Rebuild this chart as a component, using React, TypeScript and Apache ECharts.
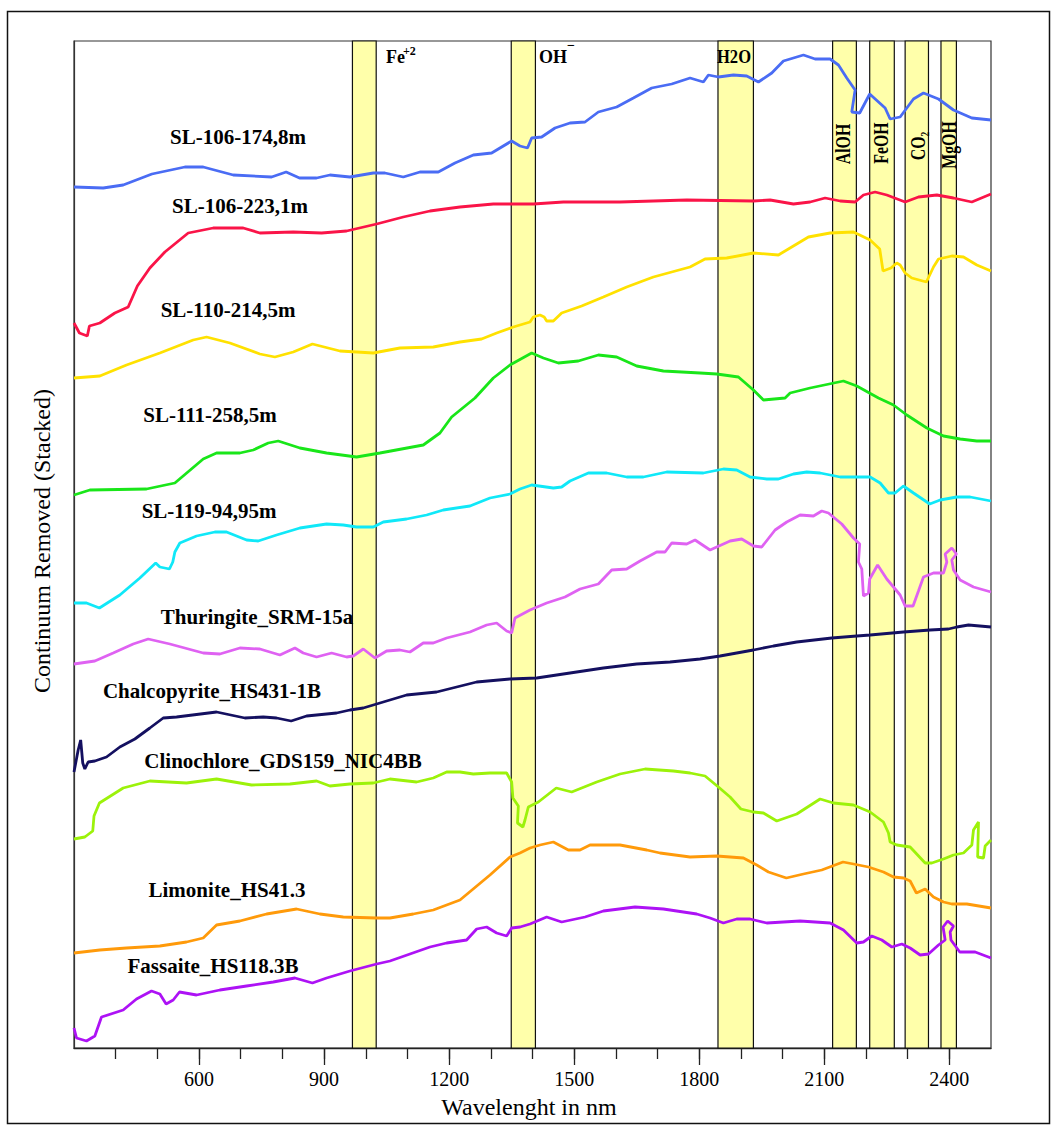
import { useEffect, useRef } from 'react';
import * as echarts from 'echarts';

type Pt = [number, number];

const FONT = "'Liberation Serif', 'Times New Roman', serif";

// Wavelength axis (nm)
const WAVE_MIN = 300;
const WAVE_MAX = 2500;
const MAJOR_TICKS = [600, 900, 1200, 1500, 1800, 2100, 2400];
const MINOR_TICKS = [
  400, 500, 600, 700, 800, 900, 1000, 1100, 1200, 1300, 1400, 1500, 1600, 1700,
  1800, 1900, 2000, 2100, 2200, 2300, 2400,
];

// Diagnostic absorption windows (nm)
const BAND_FROM = [968, 1349, 1845, 2120, 2209, 2294, 2380];
const BAND_TO = [1025, 1407, 1930, 2177, 2268, 2350, 2417];

// Continuum-removed spectra, offset for stacking: [wavelength nm, value]
const SL_106_174_8: Pt[] = [
  [300, 8.61], [370, 8.6], [418, 8.63], [487, 8.74], [566, 8.81], [610, 8.81], [682, 8.73], [774, 8.71],
  [809, 8.76], [841, 8.7], [882, 8.7], [914, 8.73], [962, 8.71], [1018, 8.75], [1046, 8.75], [1090, 8.71],
  [1130, 8.76], [1174, 8.76], [1214, 8.85], [1258, 8.93], [1302, 8.95], [1350, 9.07], [1370, 9.02],
  [1388, 9.0], [1398, 9.1], [1422, 9.11], [1454, 9.2], [1490, 9.25], [1526, 9.26], [1558, 9.36],
  [1602, 9.41], [1642, 9.5], [1686, 9.6], [1734, 9.64], [1778, 9.7], [1810, 9.66], [1822, 9.73],
  [1846, 9.71], [1882, 9.73], [1914, 9.72], [1942, 9.66], [1974, 9.75], [2002, 9.87], [2050, 9.93],
  [2078, 9.89], [2114, 9.89], [2134, 9.83], [2154, 9.7], [2174, 9.58], [2166, 9.36], [2185, 9.35],
  [2209, 9.54], [2246, 9.4], [2258, 9.29], [2282, 9.31], [2314, 9.49], [2338, 9.55], [2374, 9.49],
  [2410, 9.38], [2454, 9.3], [2500, 9.28],
];

const SL_106_223_1: Pt[] = [
  [300, 7.25], [313, 7.15], [332, 7.12], [337, 7.22], [362, 7.25], [398, 7.35], [430, 7.41], [452, 7.62],
  [482, 7.8], [518, 7.96], [574, 8.15], [634, 8.2], [706, 8.2], [746, 8.15], [826, 8.16], [894, 8.15],
  [954, 8.17], [1026, 8.24], [1090, 8.31], [1154, 8.37], [1226, 8.41], [1306, 8.44], [1402, 8.44],
  [1474, 8.46], [1610, 8.46], [1770, 8.48], [1930, 8.47], [1970, 8.48], [2026, 8.44], [2066, 8.46],
  [2102, 8.5], [2138, 8.47], [2174, 8.46], [2194, 8.53], [2222, 8.56], [2250, 8.53], [2294, 8.46],
  [2326, 8.51], [2370, 8.53], [2410, 8.5], [2454, 8.46], [2500, 8.54],
];

const SL_110_214_5: Pt[] = [
  [300, 6.7], [362, 6.72], [426, 6.83], [506, 6.95], [586, 7.08], [618, 7.11], [674, 7.05], [746, 6.94],
  [782, 6.91], [826, 6.96], [872, 7.04], [938, 6.97], [1018, 6.95], [1082, 7.0], [1162, 7.01], [1226, 7.06],
  [1278, 7.09], [1314, 7.15], [1354, 7.21], [1394, 7.26], [1402, 7.31], [1418, 7.33], [1428, 7.31],
  [1434, 7.27], [1450, 7.27], [1470, 7.35], [1518, 7.42], [1570, 7.51], [1626, 7.61], [1690, 7.71],
  [1778, 7.81], [1814, 7.89], [1866, 7.9], [1930, 7.95], [1990, 7.93], [2062, 8.11], [2114, 8.15],
  [2170, 8.16], [2210, 8.08], [2233, 7.99], [2241, 7.77], [2260, 7.8], [2274, 7.85], [2282, 7.83],
  [2294, 7.75], [2310, 7.7], [2345, 7.66], [2362, 7.81], [2374, 7.89], [2406, 7.92], [2434, 7.91],
  [2466, 7.83], [2500, 7.77],
];

const SL_111_258_5: Pt[] = [
  [300, 5.53], [338, 5.58], [474, 5.59], [542, 5.65], [610, 5.89], [642, 5.95], [698, 5.95], [730, 5.98],
  [766, 6.05], [790, 6.07], [842, 6.0], [906, 5.95], [978, 5.91], [1034, 5.95], [1138, 6.03], [1178, 6.15],
  [1206, 6.31], [1262, 6.5], [1306, 6.7], [1346, 6.83], [1398, 6.95], [1426, 6.9], [1462, 6.85],
  [1510, 6.87], [1558, 6.93], [1602, 6.91], [1650, 6.82], [1714, 6.77], [1802, 6.75], [1842, 6.74],
  [1894, 6.71], [1930, 6.58], [1954, 6.48], [2006, 6.5], [2018, 6.55], [2066, 6.6], [2146, 6.67],
  [2178, 6.62], [2230, 6.5], [2266, 6.43], [2298, 6.33], [2346, 6.2], [2386, 6.12], [2426, 6.09],
  [2466, 6.07], [2500, 6.07],
];

const SL_119_94_95: Pt[] = [
  [300, 4.45], [330, 4.45], [361, 4.4], [410, 4.53], [458, 4.7], [496, 4.85], [506, 4.81], [529, 4.79],
  [537, 4.86], [542, 4.96], [554, 5.05], [594, 5.12], [638, 5.16], [666, 5.16], [714, 5.08], [742, 5.07],
  [786, 5.13], [842, 5.2], [906, 5.24], [946, 5.23], [978, 5.21], [1018, 5.21], [1042, 5.26], [1098, 5.29],
  [1146, 5.33], [1186, 5.38], [1250, 5.42], [1298, 5.5], [1346, 5.54], [1370, 5.59], [1398, 5.63],
  [1450, 5.6], [1470, 5.61], [1490, 5.67], [1534, 5.75], [1578, 5.75], [1626, 5.71], [1666, 5.71],
  [1722, 5.76], [1810, 5.75], [1858, 5.79], [1890, 5.78], [1922, 5.71], [1962, 5.69], [1990, 5.69],
  [2026, 5.74], [2058, 5.76], [2090, 5.75], [2138, 5.71], [2210, 5.71], [2234, 5.65], [2254, 5.55],
  [2270, 5.55], [2290, 5.62], [2314, 5.55], [2353, 5.44], [2378, 5.48], [2418, 5.51], [2450, 5.51],
  [2500, 5.47],
];

const THURINGITE: Pt[] = [
  [300, 3.84], [350, 3.87], [394, 3.95], [442, 4.04], [478, 4.09], [530, 4.04], [610, 3.95], [650, 3.94],
  [698, 4.0], [746, 3.99], [794, 3.93], [830, 4.0], [850, 3.95], [882, 3.91], [918, 3.95], [954, 3.91],
  [970, 3.92], [994, 3.99], [1022, 3.9], [1050, 3.97], [1082, 3.98], [1106, 3.96], [1138, 4.05],
  [1162, 4.05], [1194, 4.1], [1250, 4.16], [1290, 4.23], [1314, 4.25], [1338, 4.17], [1350, 4.15],
  [1358, 4.3], [1394, 4.38], [1434, 4.45], [1478, 4.51], [1514, 4.59], [1558, 4.64], [1590, 4.78],
  [1626, 4.79], [1658, 4.87], [1698, 4.96], [1718, 4.96], [1734, 5.05], [1770, 5.04], [1790, 5.08],
  [1826, 4.98], [1874, 5.07], [1902, 5.09], [1930, 5.02], [1950, 5.01], [1982, 5.18], [2010, 5.26],
  [2042, 5.33], [2074, 5.32], [2094, 5.37], [2110, 5.35], [2142, 5.24], [2170, 5.1], [2185, 5.04],
  [2182, 4.86], [2190, 4.79], [2194, 4.52], [2206, 4.55], [2209, 4.69], [2228, 4.83], [2250, 4.69],
  [2270, 4.59], [2282, 4.53], [2294, 4.42], [2313, 4.42], [2326, 4.57], [2338, 4.71], [2362, 4.75],
  [2386, 4.75], [2394, 4.86], [2390, 4.94], [2406, 5.0], [2417, 4.94], [2406, 4.88], [2410, 4.78],
  [2426, 4.68], [2458, 4.61], [2500, 4.56],
];

const CHALCOPYRITE: Pt[] = [
  [300, 2.76], [310, 2.98], [316, 3.08], [321, 2.85], [326, 2.79], [334, 2.86], [350, 2.87], [378, 2.91],
  [410, 3.01], [446, 3.09], [482, 3.2], [514, 3.3], [546, 3.31], [642, 3.36], [710, 3.3], [754, 3.31],
  [786, 3.3], [821, 3.27], [858, 3.32], [930, 3.35], [962, 3.38], [994, 3.4], [1018, 3.43], [1034, 3.45],
  [1098, 3.53], [1170, 3.56], [1266, 3.66], [1346, 3.69], [1410, 3.7], [1490, 3.75], [1570, 3.8],
  [1650, 3.84], [1730, 3.86], [1802, 3.89], [1850, 3.92], [1930, 3.98], [1978, 4.02], [2034, 4.06],
  [2118, 4.1], [2178, 4.12], [2210, 4.13], [2290, 4.16], [2354, 4.18], [2398, 4.19], [2418, 4.21],
  [2446, 4.23], [2500, 4.21],
];

const CLINOCHLORE: Pt[] = [
  [300, 2.09], [326, 2.11], [345, 2.17], [348, 2.32], [361, 2.45], [418, 2.6], [482, 2.67], [570, 2.65],
  [642, 2.69], [726, 2.63], [818, 2.64], [882, 2.67], [914, 2.62], [962, 2.64], [1018, 2.65], [1058, 2.69],
  [1122, 2.66], [1162, 2.7], [1194, 2.76], [1226, 2.76], [1258, 2.74], [1298, 2.75], [1338, 2.75],
  [1350, 2.66], [1353, 2.5], [1366, 2.42], [1364, 2.25], [1377, 2.21], [1382, 2.28], [1390, 2.41],
  [1414, 2.46], [1457, 2.6], [1494, 2.56], [1554, 2.66], [1610, 2.74], [1670, 2.79], [1738, 2.77],
  [1778, 2.75], [1814, 2.72], [1846, 2.61], [1874, 2.51], [1900, 2.39], [1930, 2.36], [1954, 2.35],
  [1986, 2.27], [2034, 2.34], [2090, 2.49], [2122, 2.45], [2170, 2.43], [2210, 2.36], [2242, 2.26],
  [2254, 2.15], [2258, 2.06], [2274, 2.03], [2306, 2.01], [2342, 1.85], [2358, 1.85], [2386, 1.89],
  [2410, 1.93], [2434, 1.95], [2454, 2.03], [2458, 2.18], [2470, 2.26], [2468, 1.91], [2482, 1.9],
  [2486, 2.02], [2500, 2.08],
];

const LIMONITE: Pt[] = [
  [300, 0.95], [362, 0.98], [426, 1.0], [506, 1.02], [570, 1.06], [610, 1.1], [642, 1.23], [698, 1.27],
  [762, 1.34], [834, 1.39], [890, 1.34], [946, 1.31], [1026, 1.3], [1058, 1.3], [1114, 1.34], [1162, 1.38],
  [1226, 1.48], [1298, 1.73], [1346, 1.91], [1370, 1.95], [1394, 2.0], [1418, 2.03], [1450, 2.06],
  [1486, 1.98], [1514, 1.98], [1538, 2.03], [1610, 2.03], [1674, 1.98], [1706, 1.95], [1778, 1.91],
  [1842, 1.92], [1906, 1.9], [1938, 1.83], [1966, 1.76], [2009, 1.7], [2050, 1.74], [2094, 1.78],
  [2145, 1.86], [2170, 1.84], [2206, 1.81], [2242, 1.76], [2266, 1.71], [2290, 1.7], [2306, 1.67],
  [2321, 1.55], [2342, 1.59], [2362, 1.51], [2386, 1.46], [2406, 1.44], [2442, 1.44], [2500, 1.4],
];

const FASSAITE: Pt[] = [
  [300, 0.2], [306, 0.1], [330, 0.07], [350, 0.12], [366, 0.31], [418, 0.38], [450, 0.49], [486, 0.57],
  [506, 0.54], [521, 0.44], [538, 0.48], [553, 0.56], [594, 0.53], [650, 0.58], [714, 0.62], [778, 0.66],
  [830, 0.7], [872, 0.65], [906, 0.7], [962, 0.77], [1026, 0.84], [1058, 0.87], [1106, 0.94], [1154, 1.01],
  [1194, 1.05], [1242, 1.08], [1266, 1.19], [1290, 1.21], [1314, 1.15], [1338, 1.12], [1350, 1.2],
  [1370, 1.21], [1394, 1.24], [1434, 1.31], [1470, 1.26], [1526, 1.31], [1570, 1.37], [1646, 1.41],
  [1714, 1.39], [1794, 1.34], [1826, 1.3], [1858, 1.25], [1890, 1.29], [1922, 1.29], [1962, 1.25],
  [2042, 1.27], [2114, 1.25], [2146, 1.18], [2178, 1.05], [2194, 1.06], [2214, 1.12], [2238, 1.08],
  [2262, 1.01], [2286, 1.04], [2306, 1.0], [2330, 0.93], [2350, 0.94], [2374, 1.03], [2390, 1.08],
  [2385, 1.21], [2396, 1.27], [2410, 1.22], [2402, 1.16], [2404, 1.08], [2425, 0.96], [2462, 0.96],
  [2500, 0.9],
];

const SPECTRA = [
  { name: 'SL-106-174,8m', color: '#4a6cf4', data: SL_106_174_8 },
  { name: 'SL-106-223,1m', color: '#fa1448', data: SL_106_223_1 },
  { name: 'SL-110-214,5m', color: '#ffe100', data: SL_110_214_5 },
  { name: 'SL-111-258,5m', color: '#19e619', data: SL_111_258_5 },
  { name: 'SL-119-94,95m', color: '#10e8f8', data: SL_119_94_95 },
  { name: 'Thuringite_SRM-15a', color: '#df62f2', data: THURINGITE },
  { name: 'Chalcopyrite_HS431-1B', color: '#141060', data: CHALCOPYRITE },
  { name: 'Clinochlore_GDS159_NIC4BB', color: '#9cf20a', data: CLINOCHLORE },
  { name: 'Limonite_HS41.3', color: '#ff9a0a', data: LIMONITE },
  { name: 'Fassaite_HS118.3B', color: '#ad12f5', data: FASSAITE },
];

// Where each spectrum's caption sits (centre, px)
const CAPTION_AT: [number, number][] = [
  [238, 137], [240, 206], [228, 310], [210, 415], [209, 511],
  [257, 617], [212, 691], [283, 761], [227, 890], [213, 966],
];

const GRID = { left: 74, top: 41, width: 917, height: 1007 };

function caption(text: string, x: number, y: number, size = 21) {
  return {
    type: 'text',
    x,
    y,
    silent: true,
    z: 10,
    style: {
      text,
      fill: '#000',
      fontFamily: FONT,
      fontWeight: 'bold',
      fontSize: size,
      align: 'center',
      verticalAlign: 'middle',
    },
  };
}

function bandTag(text: string, x: number, y: number) {
  return {
    type: 'text',
    x,
    y,
    rotation: Math.PI / 2,
    scaleX: 0.72,
    silent: true,
    z: 10,
    style: {
      text,
      fill: '#000',
      fontFamily: FONT,
      fontWeight: 'bold',
      fontSize: 22,
      align: 'center',
      verticalAlign: 'middle',
    },
  };
}

export default function App() {
  const ref = useRef<HTMLDivElement>(null);

  useEffect(() => {
    if (!ref.current) return;
    const chart = echarts.init(ref.current, null, { renderer: 'svg' });

    const bandAreas = BAND_FROM.map((from, i) => [{ xAxis: from }, { xAxis: BAND_TO[i] }]);

    const series = SPECTRA.map((s, i) => ({
      type: 'line',
      name: s.name,
      data: s.data,
      showSymbol: false,
      symbol: 'none',
      smooth: false,
      z: 3,
      lineStyle: { color: s.color, width: 2.8 },
      ...(i === 0
        ? {
            markArea: {
              silent: true,
              z: 1,
              itemStyle: { color: '#ffffaa', borderColor: '#111', borderWidth: 1.2 },
              data: bandAreas,
            },
          }
        : {}),
    }));

    const graphic: any[] = [
      {
        type: 'rect',
        silent: true,
        shape: { x: 7.5, y: 11.5, width: 1042, height: 1112 },
        style: { fill: 'none', stroke: '#111', lineWidth: 1.5 },
      },
      {
        type: 'text',
        x: 42,
        y: 541,
        rotation: Math.PI / 2,
        silent: true,
        style: {
          text: 'Continuum Removed (Stacked)',
          fill: '#000',
          fontFamily: FONT,
          fontSize: 24,
          align: 'center',
          verticalAlign: 'middle',
        },
      },
      {
        type: 'text',
        x: 529,
        y: 1107,
        silent: true,
        style: {
          text: 'Wavelenght in nm',
          fill: '#000',
          fontFamily: FONT,
          fontSize: 24,
          align: 'center',
          verticalAlign: 'middle',
        },
      },
      ...SPECTRA.map((s, i) => caption(s.name, CAPTION_AT[i][0], CAPTION_AT[i][1])),
      // band annotations
      {
        type: 'text', x: 386, y: 57, silent: true, z: 10,
        style: { text: 'Fe', fill: '#000', fontFamily: FONT, fontWeight: 'bold', fontSize: 18, align: 'left', verticalAlign: 'middle' },
      },
      {
        type: 'text', x: 403, y: 51, silent: true, z: 10,
        style: { text: '+2', fill: '#000', fontFamily: FONT, fontWeight: 'bold', fontSize: 12, align: 'left', verticalAlign: 'middle' },
      },
      {
        type: 'text', x: 539, y: 57, silent: true, z: 10,
        style: { text: 'OH', fill: '#000', fontFamily: FONT, fontWeight: 'bold', fontSize: 18, align: 'left', verticalAlign: 'middle' },
      },
      {
        type: 'text', x: 567, y: 45, silent: true, z: 10,
        style: { text: '\u2212', fill: '#000', fontFamily: FONT, fontWeight: 'bold', fontSize: 14, align: 'left', verticalAlign: 'middle' },
      },
      {
        type: 'text', x: 734, y: 57, scaleX: 0.92, silent: true, z: 10,
        style: { text: 'H2O', fill: '#000', fontFamily: FONT, fontWeight: 'bold', fontSize: 18, align: 'center', verticalAlign: 'middle' },
      },
      bandTag('AlOH', 843, 144),
      bandTag('FeOH', 881, 143),
      bandTag('CO\u2082', 918, 146),
      bandTag('MgOH', 949, 145),
    ];

    chart.setOption({
      animation: false,
      backgroundColor: '#fff',
      grid: {
        ...GRID,
        show: true,
        borderColor: '#333',
        borderWidth: 1.2,
        backgroundColor: 'transparent',
      },
      xAxis: [
        {
          type: 'value',
          min: WAVE_MIN,
          max: WAVE_MAX,
          position: 'bottom',
          axisLine: { show: true, onZero: false, lineStyle: { color: '#222', width: 1.3 } },
          axisTick: { show: true, customValues: MAJOR_TICKS, length: 17, lineStyle: { color: '#222', width: 1.3 } },
          axisLabel: {
            show: true,
            customValues: MAJOR_TICKS,
            formatter: (v: number) => String(v),
            color: '#000',
            fontFamily: FONT,
            fontSize: 20,
            margin: 21,
          },
          splitLine: { show: false },
        },
        {
          type: 'value',
          min: WAVE_MIN,
          max: WAVE_MAX,
          position: 'bottom',
          axisLine: { show: false },
          axisTick: { show: true, customValues: MINOR_TICKS, length: 11, lineStyle: { color: '#222', width: 1.3 } },
          axisLabel: { show: false },
          splitLine: { show: false },
        },
      ],
      yAxis: {
        type: 'value',
        min: 0,
        max: 10.07,
        axisLine: { show: true, onZero: false, lineStyle: { color: '#333', width: 1.2 } },
        axisTick: { show: false },
        axisLabel: { show: false },
        splitLine: { show: false },
      },
      series,
      graphic,
    });

    return () => chart.dispose();
  }, []);

  return (
    <div
      ref={ref}
      style={{ position: 'absolute', left: 0, top: 0, width: 1061, height: 1128, background: '#fff' }}
    />
  );
}
